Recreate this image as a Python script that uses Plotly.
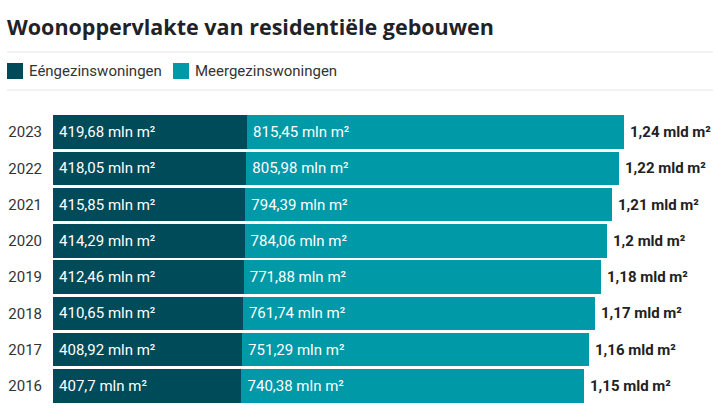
import plotly.graph_objects as go

years = ["2016", "2017", "2018", "2019", "2020", "2021", "2022", "2023"]
eengezins = [407.7, 408.92, 410.65, 412.46, 414.29, 415.85, 418.05, 419.68]
meergezins = [740.38, 751.29, 761.74, 771.88, 784.06, 794.39, 805.98, 815.45]
eengezins_labels = ["407,7 mln m²", "408,92 mln m²", "410,65 mln m²", "412,46 mln m²",
                    "414,29 mln m²", "415,85 mln m²", "418,05 mln m²", "419,68 mln m²"]
meergezins_labels = ["740,38 mln m²", "751,29 mln m²", "761,74 mln m²", "771,88 mln m²",
                     "784,06 mln m²", "794,39 mln m²", "805,98 mln m²", "815,45 mln m²"]
total_labels = ["1,15 mld m²", "1,16 mld m²", "1,17 mld m²", "1,18 mld m²",
                "1,2 mld m²", "1,21 mld m²", "1,22 mld m²", "1,24 mld m²"]
series_names = ["Eéngezinswoningen", "Meergezinswoningen"]
colors = ["#004b59", "#0099a8"]

totals = [a + b for a, b in zip(eengezins, meergezins)]

W, H = 720, 410
ML, MR, MT, MB = 53, 5, 114, 6
PW = W - ML - MR
PH = H - MT - MB

FONT = "Roboto"

fig = go.Figure()
for name, vals, labs, col in [(series_names[0], eengezins, eengezins_labels, colors[0]),
                              (series_names[1], meergezins, meergezins_labels, colors[1])]:
    fig.add_trace(go.Bar(
        y=years, x=vals, name=name, orientation="h",
        marker=dict(color=col, line=dict(width=0)),
        text=["\u2009" + t for t in labs], textposition="inside", insidetextanchor="start",
        textfont=dict(family=FONT, size=15, color="white"),
        constraintext="none", showlegend=False, hoverinfo="skip",
    ))

for i, (t, lab) in enumerate(zip(totals, total_labels)):
    fig.add_annotation(x=t, y=i, xref="x", yref="y", text="<b>" + lab + "</b>",
                       showarrow=False, xanchor="left", xshift=4,
                       font=dict(family=FONT, size=15, color="#222222"))

def px(xp):
    return (xp - ML) / PW

def py(yp):
    return (H - MB - yp) / PH

# separator lines
for yl in [52, 90]:
    fig.add_shape(type="line", xref="paper", yref="paper", x0=px(7), x1=px(713),
                  y0=py(yl), y1=py(yl), line=dict(color="#e6e6e6", width=1.2))

# custom legend
legend_items = [(7, 27, series_names[0], colors[0]), (173, 193, series_names[1], colors[1])]
for sx, tx, name, col in legend_items:
    fig.add_shape(type="rect", xref="paper", yref="paper", x0=px(sx), x1=px(sx + 16),
                  y0=py(79), y1=py(63), fillcolor=col, line=dict(width=0))
    fig.add_annotation(x=px(tx), y=py(71), xref="paper", yref="paper", text=name,
                       showarrow=False, xanchor="left", yanchor="middle",
                       font=dict(family=FONT, size=15, color="#333333"))

fig.update_layout(
    width=W, height=H,
    barmode="stack", bargap=0.08,
    margin=dict(l=ML, r=MR, t=MT, b=MB),
    paper_bgcolor="white", plot_bgcolor="white",
    title=dict(text="<b>Woonoppervlakte van residentiële gebouwen</b>",
               xref="container", yref="container", x=7 / W, y=1 - 27 / H,
               xanchor="left", yanchor="middle",
               font=dict(family="Open Sans", size=21.5, color="#1f2328")),
    xaxis=dict(range=[0, PW / 0.4623], visible=False, fixedrange=True),
    yaxis=dict(type="category", categoryorder="array", categoryarray=years,
               range=[-0.5, len(years) - 0.5], fixedrange=True,
               showgrid=False, zeroline=False, showline=False, ticks="",
               ticklabelstandoff=10,
               tickfont=dict(family=FONT, size=15, color="#333333")),
)

fig.write_html("out.html", config={"displayModeBar": False},
               post_script="document.body.style.margin='0';")
